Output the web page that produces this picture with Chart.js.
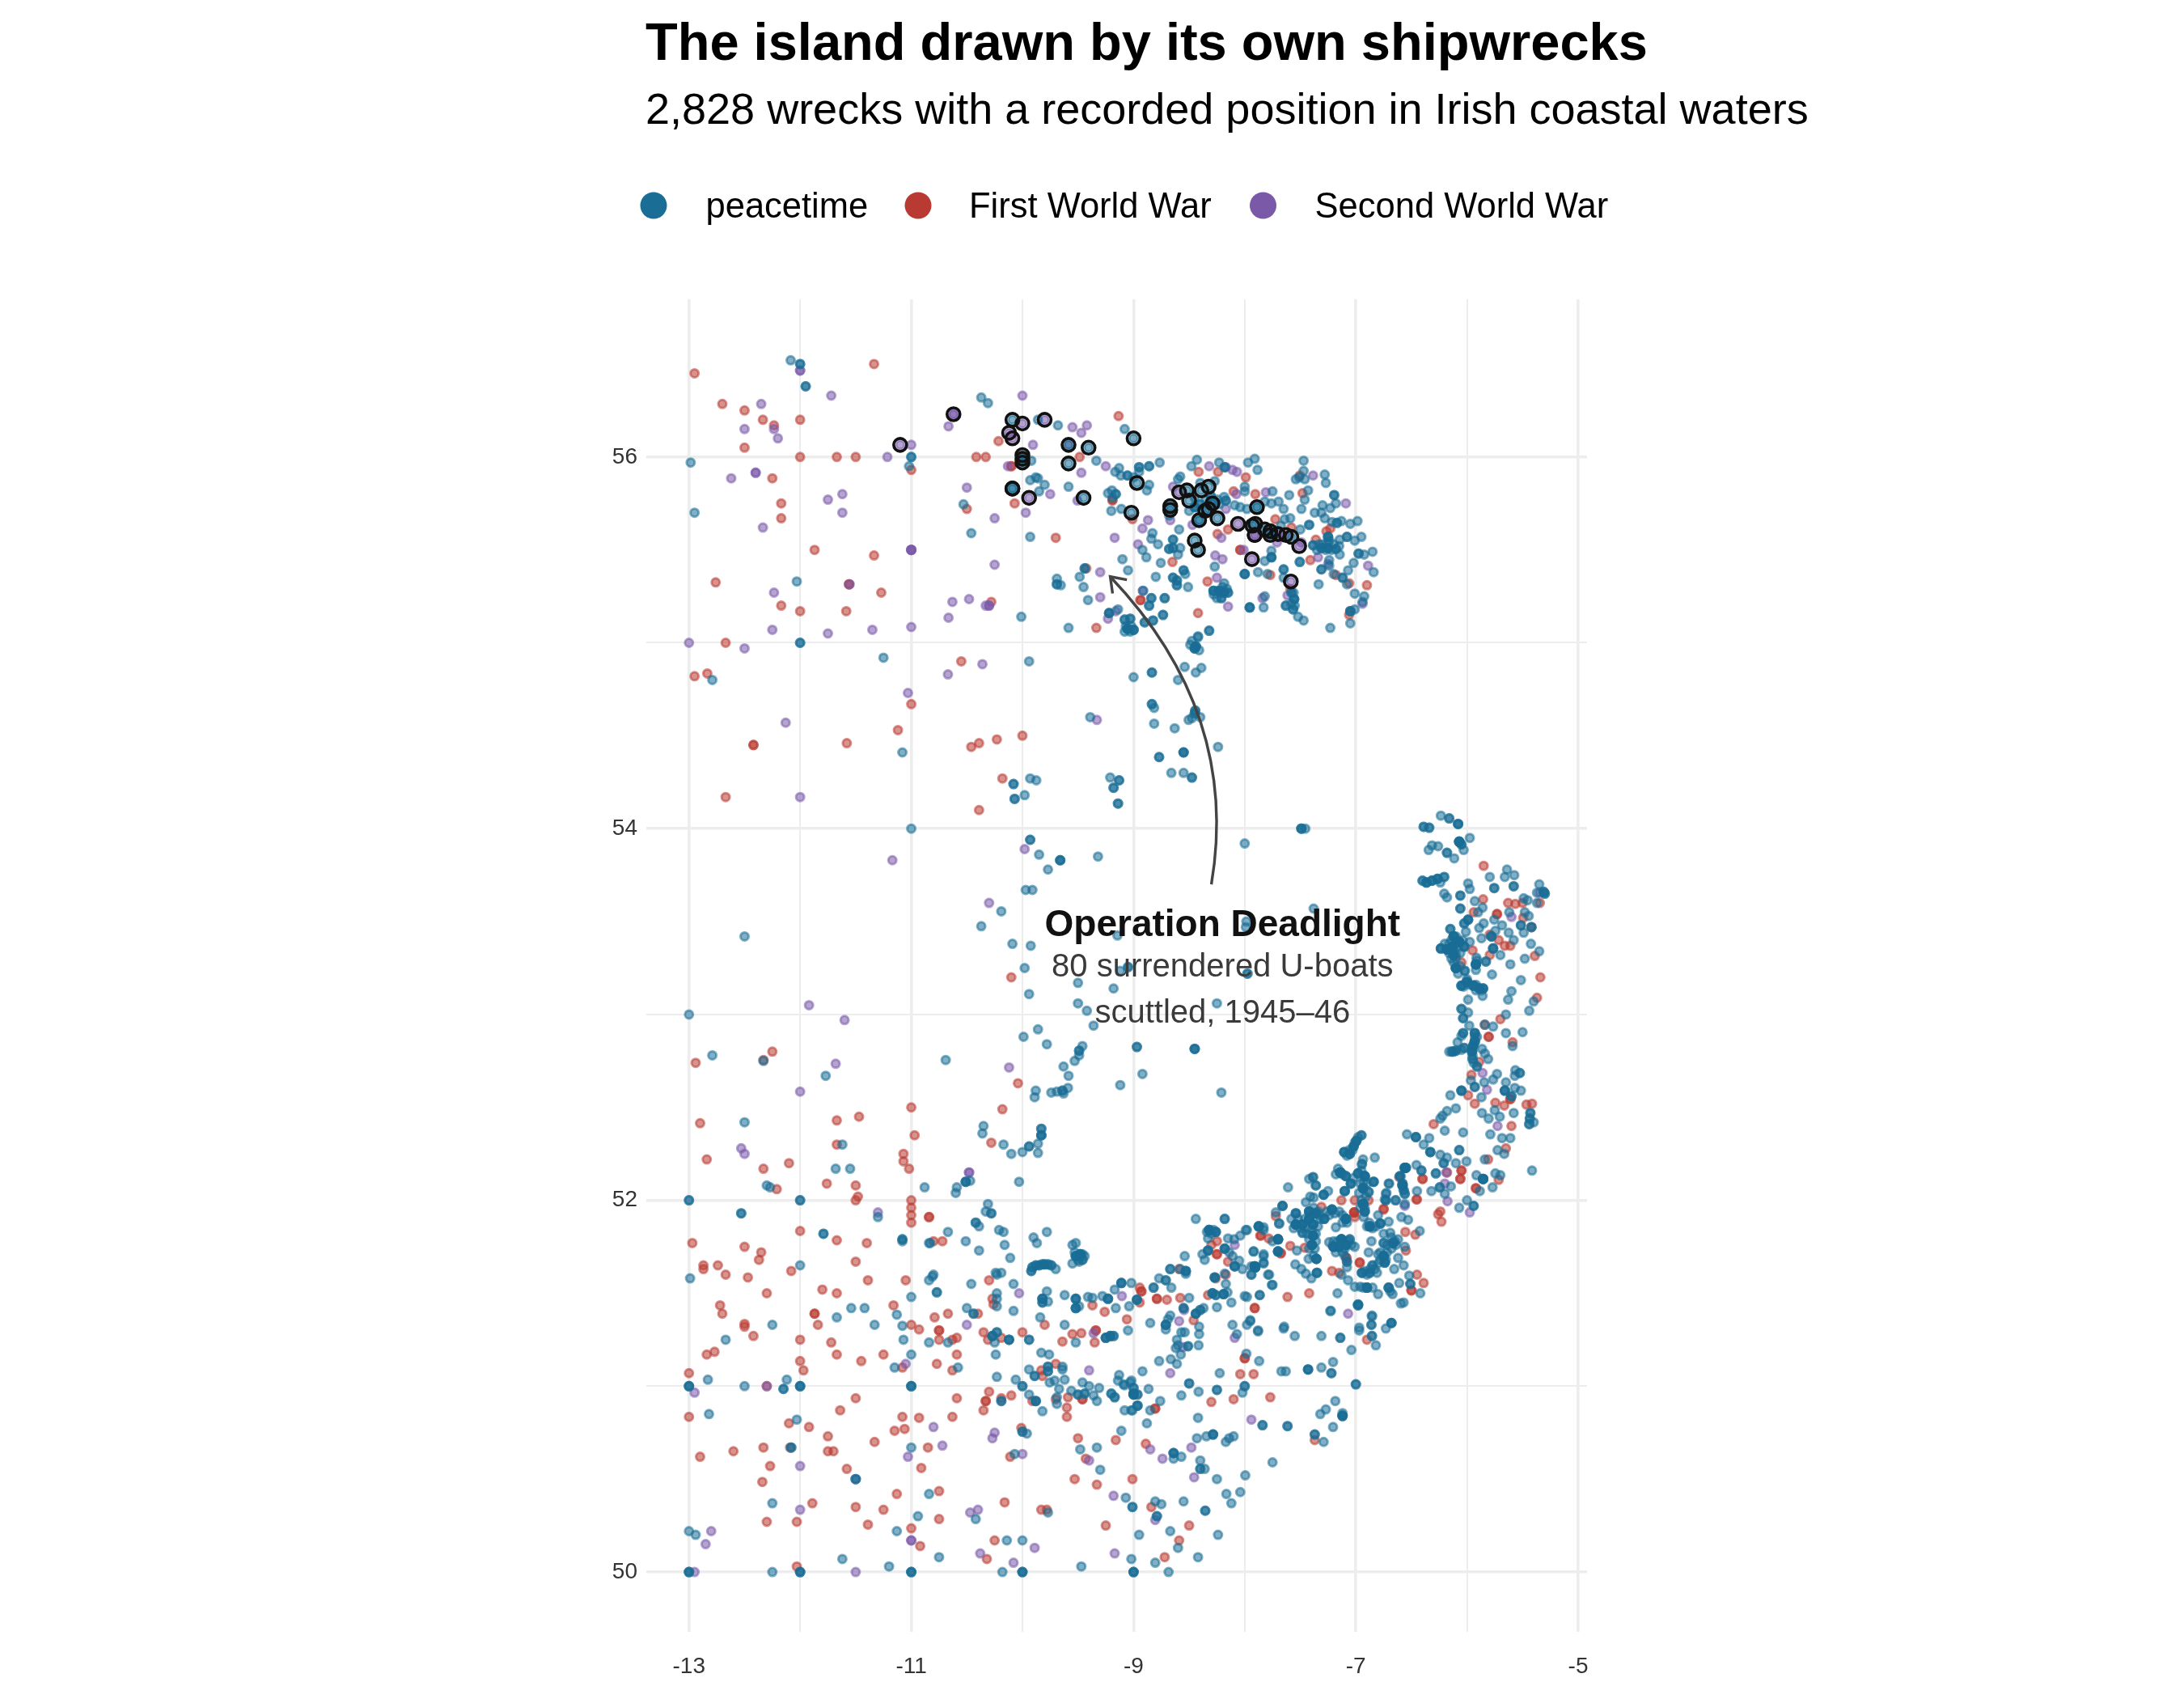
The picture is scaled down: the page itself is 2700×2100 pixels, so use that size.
<!DOCTYPE html>
<html>
<head>
<meta charset="utf-8">
<title>The island drawn by its own shipwrecks</title>
<script src="https://cdn.jsdelivr.net/npm/chart.js@4"></script>
<style>
  html, body { margin: 0; background: #fff; }
  canvas { display: block; }
</style>
</head>
<body>
<canvas id="chart" width="2700" height="2100"></canvas>
<script>
// [lon, lat]; a repeated pair is a spot where wrecks stack up.
const peacetime = [
// south-west
[-13,52],[-13,52],[-12,52],[-12,52],[-12.53,51.93],[-12.53,51.93],[-12.3,52.08],[-12.27,52.07],[-10.51,52.1],[-10.51,52.1],[-10.51,52.1],[-10.47,52.105],[-10.59,52.07],[-10.6,52.04],[-10.03,52.1],[-10.88,52.07],[-11.3,51.91],[-10.31,51.98],[-10.33,51.94],[-10.28,51.93],[-10.28,51.93],[-10.42,51.88],[-10.42,51.88],[-10.39,51.86],[-10.21,51.84],[-10.17,51.83],[-10.67,51.83],[-10.51,51.78],[-10.39,51.73],[-10.16,51.76],[-10.11,51.69],[-9.9,51.8],[-9.87,51.77],[-9.78,51.83],[-9.55,51.76],[-9.52,51.77],[-11.79,51.82],[-11.79,51.82],[-11.08,51.79],[-11.08,51.79],[-11.08,51.78],[-10.84,51.77],[-10.83,51.77],
[-9.92,51.62],[-9.92,51.62],[-9.91,51.64],[-9.91,51.64],[-9.88,51.65],[-9.88,51.65],[-9.85,51.65],[-9.85,51.65],[-9.82,51.655],[-9.82,51.655],[-9.8,51.655],[-9.8,51.655],[-9.77,51.655],[-9.77,51.655],[-9.74,51.65],[-9.74,51.65],[-9.7,51.63],
[-9.48,51.71],[-9.48,51.71],[-9.48,51.71],[-9.48,51.71],[-9.52,51.7],[-9.52,51.7],[-9.52,51.7],[-9.46,51.68],[-9.46,51.68],[-9.55,51.66],[-9.49,51.67],
[-12.99,51.58],[-12,51.65],[-10.8,51.6],[-10.81,51.59],[-10.84,51.57],[-10.24,51.61],[-10.23,51.6],[-10.19,51.61],[-10.46,51.55],[-10.08,51.55],[-10.77,51.505],[-10.77,51.505],[-11,51.48],[-10.23,51.5],[-10.23,51.47],[-10.23,51.43],[-10.08,51.405],[-9.78,51.51],[-9.82,51.47],[-9.82,51.47],[-9.82,51.47],[-9.82,51.45],[-9.82,51.45],[-9.77,51.455],[-9.62,51.49],[-9.52,51.47],[-9.52,51.47],[-9.52,51.47],[-9.52,51.42],[-9.52,51.42],[-9.52,51.42],[-9.49,51.43],[-9.41,51.48],[-9.37,51.475],[-9.28,51.485],[-9.23,51.47],[-9.23,51.47],[-9.23,51.47],[-9.17,51.52],[-9.11,51.555],[-9.11,51.555],[-9.11,51.555],[-9.02,51.555],[-9.16,51.42],[-9.04,51.43],
[-11.54,51.42],[-11.42,51.42],[-11.67,51.37],[-11.33,51.33],[-11.13,51.385],[-11.08,51.325],[-12.25,51.33],[-11.07,51.25],[-12.67,51.25],[-10.84,51.235],[-10.67,51.235],[-10.5,51.42],[-10.44,51.39],[-10.44,51.39],[-9.84,51.37],[-9.62,51.33],[-10.23,51.29],[-10.23,51.29],[-10.27,51.27],[-10.27,51.27],[-10.27,51.27],[-10.25,51.235],[-10.24,51.17],[-10.12,51.25],[-10.12,51.25],[-10.12,51.25],[-9.94,51.25],[-9.94,51.25],[-9.52,51.235],[-9.05,51.3],[-9.25,51.26],[-9.25,51.26],[-9.25,51.26],[-9.21,51.27],[-9.21,51.27],[-9.21,51.27],[-9.18,51.27],[-9.18,51.27],
[-11,51.17],[-11.15,51.1],[-10.58,51.1],[-9.83,51.18],[-9.76,51.17],[-9.77,51.105],[-9.77,51.105],[-9.77,51.08],[-9.77,51.08],[-9.64,51.105],[-9.64,51.09],[-9.94,51.09],[-9.89,51.055],[-9.89,51.055],[-10.23,51.05],[-10.06,51.035],[-10,51],[-10,51],[-9.755,51.02],[-9.71,51.03],[-9.62,51.035],[-9.67,50.985],[-9.56,50.975],[-9.46,51.02],[-9.4,51],[-9.31,50.99],[-9.5,50.955],[-9.5,50.955],[-9.44,50.96],[-9.44,50.96],[-9.36,50.95],[-9.33,50.92],[-9.2,50.96],[-9.2,50.96],[-9.17,50.94],[-9.17,50.94],[-9.13,51.06],[-9.14,51.03],[-9.09,51.01],[-9.02,51.03],[-9,50.96],[-9,50.96],[-9,50.96],
[-13,51],[-13,51],[-13,51],[-12.83,51.035],[-12.5,51],[-12.12,51.035],[-12.15,50.985],[-12.15,50.985],[-12,51],[-12,51],[-12,51],[-11,51],[-11,51],[-11,51],[-9.94,50.955],[-9.88,50.92],[-9.88,50.92],[-9.88,50.92],[-10.19,50.92],[-10.19,50.92],[-9.82,50.865],[-9.69,50.94],[-9.69,50.905],[-9.08,50.87],[-9.02,50.87],[-9.11,50.76],[-12.82,50.85],[-12.03,50.82],[-10,50.755],[-10,50.755],[-9.96,50.745],[-11,50.67],[-12.08,50.67],[-12.08,50.67],[-9.48,50.66],[-9.33,50.67],[-10.07,50.635],[-9.3,50.55],[-11.5,50.5],[-11.5,50.5],[-10.84,50.42],[-12.25,50.37],[-9.07,50.4],[-9.01,50.35],[-9.01,50.35],[-9.77,50.32],[-10.42,50.285],[-10.94,50.3],[-13,50.22],[-12.94,50.2],[-11.13,50.22],[-10.14,50.17],[-10,50.17],[-10.75,50.08],[-11.62,50.07],[-11.2,50.03],[-9.47,50.03],[-9.02,50.07],[-12.25,50],[-10.18,50],
[-13,50],[-13,50],[-13,50],[-12,50],[-12,50],[-12,50],[-11,50],[-11,50],[-11,50],[-10,50],[-10,50],[-10,50],[-9,50],[-9,50],[-9,50],
// west of Clare
[-12.79,52.78],[-12.33,52.75],[-10.69,52.755],[-9.99,52.88],[-9.86,52.92],[-9.78,52.84],[-9.49,52.805],[-9.49,52.805],[-9.46,52.83],[-9.49,52.78],[-9.53,52.75],[-9.63,52.72],[-9.585,52.67],[-9.59,52.605],[-9.64,52.59],[-9.64,52.59],[-9.69,52.585],[-9.74,52.58],[-9.63,52.575],[-9.88,52.59],[-9.89,52.555],[-11.77,52.67],[-12.5,52.42],[-10.35,52.4],[-10.36,52.36],[-11.62,52.3],[-10.17,52.3],[-9.83,52.385],[-9.83,52.385],[-9.83,52.35],[-9.83,52.35],[-9.83,52.35],[-9.94,52.29],[-9.94,52.29],[-9.86,52.305],[-10,52.26],[-10.1,52.25],[-9.86,52.255],[-11.68,52.17],[-11.55,52.17],
// north-west
[-12,55],[-12,55],[-11.25,54.92],[-12.79,54.8],[-9.94,54.9],[-11.08,54.41],[-9.93,54.27],[-9.875,54.26],[-10.08,54.24],[-10.08,54.24],[-10.07,54.16],[-10.07,54.16],[-9.98,54.18],[-11,54],[-9.93,53.94],[-9.93,53.94],[-9.85,53.86],[-9.66,53.83],[-9.66,53.83],[-9.66,53.83],[-9.77,53.78],[-9.97,53.67],[-9.91,53.67],[-10.19,53.555],[-10.37,53.475],[-12.5,53.42],[-10.09,53.38],[-9.925,53.37],[-9.98,53.25],[-9.5,53.17],[-9.94,53.11],[-9.5,53.06],[-13,53],
[-12.085,56.52],[-12,56.5],[-12,56.5],[-11.95,56.38],[-11.95,56.38],[-12.985,55.97],[-12.95,55.7],[-11,56],[-11,56],[-11.02,55.95],[-10.37,56.32],[-10.31,56.29],[-10.53,55.745],[-10.46,55.59],[-9.93,55.875],[-9.88,55.89],[-10.01,55.14],[-9.93,55.57],[-12.03,55.33],
[-9.86,56.2],[-9.68,56.17],[-9.86,55.885],[-9.8,55.85],[-9.85,55.815],[-9.585,55.84],[-9.92,55.98],[-9.08,56.15],[-9.2,55.71],[-9.11,55.72],[-9.335,55.98],[-9.585,55.08],[-9.69,55.315],[-9.69,55.315],[-9.655,55.31],[-9.69,55.345],[-9.485,55.355],[-9.45,55.3],[-9.44,55.4],[-9.44,55.4],[-9.41,55.23],[-9.1,55.45],[-9.05,55.39],[-9.22,55.16],[-9.22,55.16],[-9.22,55.16],[-9.14,55.18],
// under the Deadlight rings
[-10.09,56.2],[-10,56.01],[-10,55.99],[-10,55.97],[-10.09,55.83],[-10.09,55.83],[-9.585,56.065],[-9.405,56.05],[-9.585,55.965],[-9.45,55.78],[-9,56.1],[-8.97,55.86],[-9.02,55.7],[-8.67,55.735],[-8.67,55.715],[-8.52,55.82],[-8.5,55.765],[-8.39,55.82],[-8.325,55.84],[-8.29,55.75],[-8.29,55.75],[-8.325,55.72],[-8.355,55.71],[-8.41,55.66],[-8.41,55.66],[-8.245,55.67],[-8.45,55.55],[-8.42,55.5],[-7.89,55.73],[-7.89,55.73],[-7.93,55.63],[-7.905,55.64],[-7.82,55.61],[-7.77,55.6],[-7.77,55.58],[-7.58,55.57],
// north coast
[-9.13,55.94],[-9.165,55.92],[-9.115,55.9],[-9.055,55.9],[-9.055,55.9],[-8.95,55.945],[-8.95,55.945],[-8.95,55.92],[-9,55.89],[-8.86,55.95],[-8.86,55.95],[-8.765,55.97],[-8.86,55.85],[-8.88,55.82],[-9.23,55.805],[-9.195,55.82],[-9.16,55.8],[-9.16,55.8],[-9.19,55.78],[-8.83,55.59],[-8.84,55.56],[-8.78,55.53],[-8.92,55.5],[-8.885,55.46],[-8.755,55.43],[-8.8,55.355],[-8.68,55.505],[-8.68,55.505],[-8.645,55.555],[-8.645,55.555],[-8.645,55.51],[-8.645,55.51],[-8.58,55.51],[-8.6,55.475],[-8.68,55.685],[-8.59,55.61],[-8.6,55.88],[-8.58,55.895],[-8.48,55.95],[-8.43,55.985],[-8.4,55.86],[-8.27,55.87],[-8.23,55.97],[-8.18,55.945],[-8.18,55.945],[-7.97,55.97],[-7.91,55.99],[-7.885,55.93],[-8,55.84],[-8,55.815],[-7.75,55.815],[-7.6,55.795],[-7.695,55.76],[-7.76,55.75],[-7.82,55.76],[-8.04,55.73],[-8.09,55.74],[-7.98,55.72],[-8.185,55.785],[-8.17,55.765],[-8.17,55.765],[-8.245,55.77],[-7.54,55.88],[-7.51,55.89],[-7.47,55.98],[-7.47,55.925],[-7.46,55.88],[-7.43,55.82],[-7.46,55.77],[-7.28,55.905],[-7.27,55.86],[-7.195,55.795],[-7.195,55.795],[-7.18,55.75],[-7.23,55.725],[-7.3,55.74],[-7.37,55.7],[-7.31,55.7],[-7.49,55.72],[-7.65,55.72],[-7.59,55.67],[-7.64,55.665],[-7.675,55.63],[-7.5,55.61],[-7.42,55.635],[-7.42,55.635],[-7.28,55.67],[-7.215,55.65],[-7.17,55.645],[-7.17,55.645],[-7.13,55.655],[-6.985,55.655],[-7.05,55.64],
[-7.25,55.57],[-7.25,55.57],[-7.25,55.57],[-7.24,55.55],[-7.385,55.525],[-7.385,55.525],[-7.31,55.51],[-7.31,55.51],[-7.31,55.51],[-7.25,55.51],[-7.25,55.51],[-7.25,55.51],[-7.18,55.505],[-7.18,55.505],[-7.145,55.475],[-7.08,55.57],[-7.08,55.57],[-7.145,55.555],[-7.01,55.55],[-6.95,55.57],[-7.24,55.445],[-7.24,55.415],[-7.31,55.395],[-7.31,55.395],[-7.505,55.435],[-7.505,55.435],[-7.76,55.495],[-7.76,55.46],[-7.76,55.46],[-7.76,55.46],[-7.82,55.44],[-7.65,55.395],[-7.65,55.395],[-7.65,55.35],[-8,55.37],[-8,55.37],[-8,55.37],[-7.88,55.38],[-7.795,55.37],[-7.335,55.315],[-7.2,55.37],[-7.12,55.35],[-7.12,55.35],[-7.08,55.315],[-7.02,55.43],[-7.07,55.39],[-6.975,55.48],[-6.975,55.48],[-6.925,55.475],[-6.85,55.49],[-7.01,55.265],[-6.925,55.25],[-6.94,55.22],[-6.84,55.38],[-7.05,55.17],[-7.05,55.17],[-7.05,55.17],[-7.01,55.18],[-7.05,55.105],[-7.23,55.08],
[-7.58,55.27],[-7.58,55.27],[-7.555,55.235],[-7.555,55.235],[-7.555,55.235],[-7.63,55.2],[-7.63,55.2],[-7.565,55.18],[-7.565,55.18],[-7.52,55.14],[-7.47,55.12],[-7.83,55.19],[-7.955,55.19],[-7.955,55.19],[-7.955,55.19],[-7.82,55.25],[-8.28,55.28],[-8.28,55.28],[-8.28,55.28],[-8.23,55.28],[-8.23,55.28],[-8.23,55.28],[-8.185,55.27],[-8.185,55.27],[-8.185,55.27],[-8.15,55.27],[-8.15,55.27],[-8.21,55.24],[-8.21,55.24],[-8.185,55.32],[-8.27,55.41],[-8.645,55.35],[-8.645,55.35],[-8.61,55.335],[-8.61,55.335],[-8.61,55.31],[-8.61,55.31],[-8.55,55.39],[-8.55,55.39],[-8.51,55.3],[-8.535,55.37],[-8.84,55.24],[-8.84,55.24],[-8.86,55.2],[-8.86,55.2],[-8.72,55.24],[-8.72,55.24],[-8.735,55.15],[-8.735,55.15],[-8.825,55.12],[-8.825,55.12],[-8.9,55.11],[-8.9,55.11],[-9.08,55.125],[-9.08,55.125],[-9.03,55.13],[-9.03,55.13],[-9.055,55.075],[-9.055,55.075],[-9.055,55.075],[-9.055,55.075],[-9,55.07],[-9,55.07],[-9,55.07],[-8.32,55.065],[-8.32,55.065],[-8.42,55.03],[-8.475,55.01],[-8.44,54.98],[-8.44,54.98],[-8.44,54.98],
[-8.45,55.73],[-8.45,55.73],[-8.45,55.73],[-8.4,55.745],[-8.4,55.745],[-8.35,55.77],[-8.305,55.79],[-8.305,55.79],[-8.23,55.745],[-8.45,55.78],[-8.5,55.71],[-8.915,55.28],
// centre
[-9,54.815],[-8.835,54.84],[-8.835,54.84],[-8.6,54.8],[-8.54,54.87],[-8.44,54.84],[-8.39,54.865],[-8.49,54.99],[-8.45,54.97],[-8.45,54.97],[-8.45,54.97],[-8.41,54.96],[-8.42,55.035],[-8.835,54.67],[-8.835,54.67],[-8.815,54.65],[-9.39,54.6],[-8.815,54.565],[-8.63,54.54],[-8.505,54.585],[-8.475,54.595],[-8.45,54.62],[-8.45,54.62],[-8.445,54.635],[-8.445,54.635],[-8.4,54.6],[-8.24,54.44],[-8.55,54.41],[-8.55,54.41],[-8.55,54.41],[-8.77,54.385],[-8.77,54.385],[-8.66,54.3],[-8.55,54.3],[-8.475,54.275],[-8.475,54.275],[-9.21,54.275],[-9.13,54.26],[-9.13,54.26],[-9.18,54.22],[-9.18,54.22],[-9.14,54.135],[-9.14,54.135],[-7.49,54],[-7.49,54],[-7.49,54],[-7.455,54],
[-9.32,53.85],[-8,53.92],[-7.38,53.57],[-9.145,53.425],[-7.985,53.5],[-7.99,53.47],[-9.12,53.235],[-9.05,53.255],[-9.05,53.255],[-7.975,53.22],[-7.975,53.22],[-9.18,53.14],[-9.42,53.02],[-8.25,53.06],[-9.36,52.94],[-8.97,52.825],[-8.97,52.825],[-8.45,52.815],[-8.45,52.815],[-8.45,52.815],[-8.92,52.68],[-9.12,52.62],[-8.21,52.58],
// east coast
[-6.235,54.07],[-6.16,54.055],[-6.16,54.055],[-6.08,54.025],[-6.08,54.025],[-6.08,54.025],[-6.39,54.01],[-6.39,54.01],[-6.34,54.005],[-6.34,54.005],[-6.07,53.93],[-6.07,53.93],[-6.07,53.93],[-6.07,53.93],[-6.07,53.93],[-6.05,53.915],[-6.05,53.915],[-5.975,53.95],[-6.03,53.885],[-6.345,53.885],[-6.315,53.91],[-6.26,53.905],[-6.18,53.87],[-6.18,53.87],[-6.115,53.84],
[-6.4,53.72],[-6.4,53.72],[-6.365,53.71],[-6.365,53.71],[-6.365,53.71],[-6.315,53.72],[-6.315,53.72],[-6.315,53.72],[-6.265,53.73],[-6.265,53.73],[-6.265,53.73],[-6.205,53.74],[-6.205,53.74],[-6.24,53.71],[-5.99,53.705],[-5.975,53.675],[-6.205,53.65],[-6.18,53.63],[-6.06,53.64],[-6.06,53.64],[-5.93,53.61],[-6.06,53.57],[-6.06,53.57],[-5.86,53.575],[-5.9,53.55],[-5.795,53.74],[-5.755,53.68],[-5.755,53.68],[-5.64,53.78],[-5.66,53.74],[-5.575,53.75],[-5.58,53.69],[-5.58,53.69],[-5.35,53.7],[-5.37,53.655],[-5.31,53.66],[-5.31,53.66],[-5.3,53.65],[-5.3,53.65],[-5.37,53.6],[-5.49,53.625],[-5.455,53.615],
[-5.62,53.55],[-5.48,53.55],[-5.445,53.53],[-5.755,53.51],[-5.685,53.48],[-5.85,53.49],[-5.89,53.465],[-5.515,53.48],[-5.515,53.48],[-5.42,53.47],[-5.42,53.47],[-5.49,53.44],[-5.625,53.44],[-5.58,53.4],[-5.745,53.45],[-5.78,53.42],[-5.78,53.42],[-5.78,53.42],[-5.87,53.41],[-5.425,53.38],[-5.35,53.34],[-5.765,53.355],[-5.765,53.355],[-5.765,53.355],[-5.7,53.32],[-5.83,53.285],[-5.83,53.285],[-5.48,53.3],[-5.61,53.27],[-5.775,53.215],[-5.515,53.185],[-5.6,53.125],[-5.63,53.08],[-5.4,53.07],[-5.44,53.02],[-5.65,53],[-5.765,52.935],[-5.65,52.9],[-5.5,52.905],[-5.84,52.945],[-5.59,52.83],
[-6.15,53.46],[-6.15,53.46],[-6.12,53.42],[-6.12,53.42],[-6.12,53.42],[-6.12,53.42],[-6.07,53.39],[-6.07,53.39],[-6.07,53.39],[-6.07,53.39],[-6.07,53.39],[-6.13,53.365],[-6.13,53.365],[-6.13,53.365],[-6.13,53.365],[-6.13,53.365],[-6.18,53.35],[-6.18,53.35],[-6.18,53.35],[-6.18,53.35],[-6.18,53.35],[-6.235,53.355],[-6.235,53.355],[-6.235,53.355],[-6.025,53.365],[-6.025,53.365],[-6.025,53.365],[-5.975,53.39],[-6.01,53.445],[-6.12,53.32],[-6.12,53.32],[-6.12,53.32],[-6.12,53.32],[-6.1,53.25],[-6.1,53.25],[-6.1,53.25],[-6.1,53.25],[-6.1,53.25],[-6.02,53.235],[-6.02,53.235],[-5.92,53.27],[-5.92,53.27],[-5.92,53.27],[-5.92,53.27],[-5.92,53.27],[-5.915,53.305],[-5.99,53.51],[-5.99,53.51],[-5.99,53.51],[-6.025,53.49],[-6.025,53.49],
[-6.05,53.155],[-6.05,53.155],[-6.05,53.155],[-6,53.175],[-6,53.175],[-6,53.175],[-6,53.175],[-5.94,53.155],[-5.94,53.155],[-5.94,53.155],[-5.89,53.14],[-5.89,53.14],[-5.89,53.14],[-5.855,53.14],[-5.855,53.14],[-5.855,53.14],[-5.99,53.08],[-5.86,53.1],[-6.05,53.03],[-6.05,53.03],[-5.99,53.01],[-6.035,52.98],[-6.035,52.98],[-5.98,52.94],[-6.035,52.9],[-6.035,52.9],[-6.05,52.885],[-5.93,52.9],[-5.93,52.9],[-5.93,52.9],[-5.93,52.855],[-5.93,52.855],[-5.93,52.855],[-5.945,52.83],[-5.945,52.83],[-5.945,52.83],[-5.955,52.8],[-5.955,52.8],[-5.955,52.8],[-5.95,52.76],[-5.95,52.76],[-6.135,52.8],[-6.135,52.8],[-6.1,52.805],[-6.1,52.805],[-6.025,52.82],[-6.025,52.82],[-6.085,52.85],[-5.865,52.815],[-5.84,52.79],[-5.81,52.76],
[-5.91,52.72],[-5.91,52.72],[-5.965,52.645],[-5.93,52.61],[-5.93,52.61],[-5.845,52.635],[-5.765,52.65],[-5.73,52.68],[-5.565,52.7],[-5.525,52.685],[-5.525,52.685],[-5.57,52.67],[-6.05,52.59],[-6.05,52.59],[-6.05,52.59],[-6.15,52.565],[-5.87,52.555],[-5.65,52.635],[-5.66,52.59],[-5.66,52.59],[-5.66,52.59],[-5.57,52.605],[-5.515,52.59],[-5.6,52.56],[-5.6,52.56],[-6.1,52.495],[-6.18,52.48],[-6.22,52.455],[-6.24,52.44],[-6.2,52.375],[-6.035,52.365],[-5.865,52.47],[-5.805,52.44],[-5.75,52.485],[-5.705,52.45],[-5.58,52.47],[-5.43,52.47],[-5.43,52.47],[-5.435,52.44],[-5.435,52.44],[-5.44,52.41],[-5.44,52.41],[-5.4,52.42],[-5.79,52.355],[-5.685,52.335],[-5.61,52.335],[-5.725,52.27],[-5.665,52.25],
[-6.54,52.355],[-6.46,52.34],[-6.46,52.34],[-6.46,52.34],[-6.39,52.3],[-6.34,52.335],[-6.33,52.26],[-6.33,52.26],[-6.33,52.26],[-6.24,52.245],[-6.18,52.23],[-6.21,52.2],[-6.21,52.2],[-6.1,52.2],[-6.005,52.21],[-6.07,52.27],[-6.07,52.27],[-6.455,52.19],[-6.41,52.16],[-6.41,52.16],[-6.28,52.145],[-6.28,52.145],[-6.55,52.175],[-6.55,52.175],[-6.55,52.175],[-6.595,52.13],[-6.58,52.08],[-6.58,52.08],[-6.58,52.08],[-6.58,52.08],[-6.57,52.055],[-6.57,52.055],[-6.7,52.09],[-6.725,52.04],[-6.64,52],[-6.45,52.05],[-6.32,52.05],[-6.245,52.07],[-6.245,52.07],[-6.2,52.035],[-6.145,52.075],[-5.855,52.115],[-5.855,52.115],[-5.855,52.115],[-5.855,52.115],[-5.855,52.115],[-5.915,52.135],[-5.84,52.22],[-5.745,52.145],[-5.7,52.135],[-5.77,52.07],[-5.885,52.05],[-5.415,52.16],[-6,52],[-5.94,51.97],[-5.94,51.97],[-6.07,51.96],
// Cork and Waterford
[-7.61,52.07],[-7.42,52.115],[-7.385,52.125],[-7.385,52.125],[-7.36,52.08],[-7.36,52.08],[-7.41,52.02],[-7.29,52.03],[-7.29,52.03],[-7.29,52.03],[-7.25,52.05],[-7.45,51.99],[-7.38,52.015],[-7.66,51.97],[-7.66,51.97],[-7.66,51.97],[-7.72,51.935],[-7.69,51.875],[-7.69,51.875],[-7.875,51.86],[-7.875,51.86],[-7.875,51.86],[-7.83,51.84],[-7.98,51.84],[-7.7,51.79],[-7.7,51.79],[-7.7,51.79],[-7.7,51.79],[-7.7,51.79],[-7.75,51.78],[-7.7,51.725],[-7.7,51.725],[-7.7,51.725],[-7.7,51.725],[-7.92,51.725],[-7.92,51.725],[-7.83,51.7],[-7.83,51.66],[-7.905,51.64],[-7.905,51.64],[-7.905,51.64],[-7.905,51.64],[-7.905,51.64],[-7.94,51.645],[-7.94,51.6],[-7.78,51.6],[-7.75,51.545],[-7.98,51.48],[-7.865,51.49],
[-7.53,51.73],[-7.425,51.685],[-7.545,51.655],[-7.49,51.63],[-7.45,51.605],[-7.4,51.58],[-7.355,51.685],[-7.355,51.685],[-7.355,51.685],[-7.355,51.685],[-7.35,51.61],[-7.35,51.61],[-7.35,51.61],
[-7.54,51.93],[-7.54,51.93],[-7.54,51.93],[-7.54,51.87],[-7.54,51.87],[-7.54,51.87],[-7.54,51.87],[-7.54,51.87],[-7.48,51.87],[-7.48,51.87],[-7.48,51.87],[-7.48,51.87],[-7.48,51.825],[-7.48,51.825],[-7.42,51.94],[-7.42,51.94],[-7.42,51.94],[-7.42,51.94],[-7.42,51.9],[-7.42,51.9],[-7.42,51.9],[-7.42,51.9],[-7.36,51.93],[-7.36,51.93],[-7.36,51.93],[-7.36,51.93],[-7.385,51.87],[-7.385,51.87],[-7.385,51.87],[-7.385,51.87],[-7.385,51.81],[-7.385,51.81],[-7.385,51.81],[-7.385,51.81],[-7.385,51.81],[-7.395,51.76],[-7.395,51.76],[-7.395,51.76],[-7.395,51.76],[-7.395,51.76],[-7.285,51.9],[-7.285,51.9],[-7.285,51.9],[-7.215,51.95],[-7.215,51.95],[-7.215,51.95],[-7.215,51.95],[-7.15,51.94],[-7.09,51.9],[-7.09,51.9],[-7.09,51.9],[-7.09,51.9],
[-7.18,51.855],[-7.24,51.775],[-7.13,51.79],[-7.13,51.79],[-7.13,51.79],[-7.13,51.79],[-7.13,51.79],[-7.2,51.75],[-7.2,51.75],[-7.2,51.75],[-7.2,51.75],[-7.15,51.75],[-7.15,51.75],[-7.15,51.75],[-7.15,51.75],[-7.15,51.75],[-7.09,51.76],[-7.09,51.76],[-7.09,51.76],[-7.09,51.76],[-7.055,51.79],[-7.055,51.79],[-7.01,51.75],[-7.08,51.67],[-7.08,51.67],[-7.08,51.64],[-7.13,51.6],
[-7.14,52.15],[-7.14,52.15],[-7.14,52.15],[-7.14,52.15],[-7.14,52.15],[-7.09,52.13],[-7.09,52.13],[-7.09,52.13],[-6.945,52.195],[-6.945,52.195],[-6.98,52.145],[-6.98,52.145],[-6.98,52.145],[-6.92,52.13],[-6.92,52.13],[-6.92,52.13],[-6.92,52.13],[-6.92,52.13],[-6.84,52.1],[-6.84,52.1],[-6.84,52.1],[-7.045,52.09],[-7.045,52.09],[-7.045,52.09],[-6.935,52.065],[-6.935,52.065],[-6.935,52.065],[-6.935,52.065],[-6.935,52.065],[-6.885,52.045],[-6.885,52.045],[-6.935,51.98],[-6.935,51.98],[-6.935,51.98],[-6.935,51.98],[-6.935,51.98],[-6.92,51.94],[-6.92,51.94],[-6.92,51.94],[-7.1,52.05],[-7.1,52.05],[-7.1,52.05],[-7.18,52.14],
[-7.105,52.26],[-7.105,52.26],[-7.105,52.26],[-7.055,52.25],[-7.055,52.25],[-7.055,52.25],[-7.02,52.29],[-7.02,52.29],[-7.02,52.29],[-6.995,52.32],[-6.995,52.32],[-6.995,52.32],[-6.95,52.35],[-6.95,52.35],[-6.935,52.22],[-6.83,52.23],
[-6.875,51.86],[-6.875,51.86],[-6.875,51.86],[-6.875,51.86],[-6.78,51.875],[-6.78,51.875],[-6.78,51.875],[-6.705,51.885],[-6.8,51.92],[-6.73,52.035],[-6.705,52.09],[-6.74,52.005],[-6.58,52.09],[-6.58,52.09],[-6.56,52.175],[-6.56,52.175],[-6.56,52.175],[-6.56,52.175],[-6.605,52.13],[-6.605,52.13],[-6.56,52.035],[-6.56,52.035],[-6.645,52],[-6.73,52],[-6.73,52],[-6.56,51.98],[-6.59,51.91],[-6.53,51.895],[-6.425,51.835],[-6.75,51.82],[-6.69,51.825],[-6.665,51.77],[-6.665,51.77],[-6.665,51.77],[-6.665,51.77],[-6.665,51.77],[-6.75,51.77],[-6.75,51.77],[-6.62,51.79],[-6.56,51.75],
[-6.86,51.78],[-6.75,51.7],[-6.75,51.7],[-6.75,51.7],[-6.75,51.7],[-6.75,51.7],[-6.74,51.665],[-6.74,51.665],[-6.74,51.665],[-6.85,51.65],[-6.85,51.65],[-6.945,51.61],[-6.945,51.61],[-6.945,51.61],[-6.8,51.71],[-6.885,51.72],[-6.62,51.69],[-6.57,51.65],[-6.655,51.63],[-6.875,51.61],[-6.875,51.61],[-6.81,51.61],[-7.07,51.57],[-7.01,51.535],[-6.96,51.535],[-6.9,51.53],[-6.9,51.53],[-6.9,51.53],[-6.9,51.53],[-6.8,51.495],[-6.705,51.53],[-6.705,51.53],[-6.705,51.53],[-6.61,51.555],[-6.67,51.495],[-6.52,51.595],[-6.51,51.55],[-6.51,51.55],[-6.42,51.5],[-7.165,51.5],[-6.98,51.44],[-6.98,51.44],[-6.57,51.45],[-6.595,51.445],[-7.225,51.405],[-6.855,51.38],[-7.95,51.355],[-7.88,51.295],[-7.645,51.32],[-6.68,51.34],[-6.68,51.34],[-6.86,51.33],[-6.97,51.315],
// Kerry to Cork offshore
[-8.97,51.465],[-8.97,51.465],[-8.97,51.465],[-8.82,51.53],[-8.82,51.53],[-8.77,51.58],[-8.71,51.57],[-8.71,51.57],[-8.66,51.53],[-8.54,51.7],[-8.38,51.71],[-8.36,51.68],[-8.67,51.63],[-8.67,51.63],[-8.53,51.62],[-8.53,51.62],[-8.53,51.62],[-8.53,51.605],[-8.58,51.63],[-8.85,51.34],[-8.71,51.33],[-8.71,51.33],[-8.71,51.33],[-8.71,51.305],[-8.67,51.38],[-8.69,51.36],[-8.55,51.42],[-8.55,51.42],[-8.5,51.475],[-8.44,51.39],[-8.44,51.39],[-8.44,51.39],[-8.4,51.41],[-8.4,51.41],[-8.37,51.42],[-8.25,51.425],[-8.29,51.5],[-8.29,51.5],[-8.29,51.5],[-8.26,51.49],[-8.26,51.49],[-8.19,51.495],[-8.19,51.495],[-8.19,51.495],[-8.155,51.505],[-8.17,51.55],[-8.27,51.585],[-8.27,51.585],[-8.27,51.585],[-8.18,51.605],
[-8.33,51.73],[-8.33,51.73],[-8.33,51.73],[-8.18,51.74],[-8.18,51.74],[-8.18,51.74],[-8.32,51.84],[-8.32,51.84],[-8.32,51.84],[-8.32,51.84],[-8.26,51.83],[-8.26,51.83],[-8.26,51.83],[-8.33,51.795],[-8.44,51.9],[-8.18,51.9],[-8.18,51.9],[-8.15,51.795],[-8.095,51.79],[-8.04,51.81],[-7.99,51.84],[-8.14,51.72],[-8.11,51.7],[-8.05,51.675],[-8.09,51.645],[-8.09,51.645],[-8.09,51.645],[-8.02,51.63],[-7.91,51.645],[-7.91,51.645],[-7.91,51.645],[-7.91,51.645],[-7.91,51.645],[-7.94,51.6],[-7.83,51.71],[-7.83,51.665],[-7.79,51.6],[-7.755,51.545],[-7.87,51.86],[-7.83,51.855],[-8,51.485],[-7.865,51.49],[-8.12,51.45],
[-8.41,51.32],[-8.41,51.28],[-8.415,51.22],[-8.51,51.215],[-8.51,51.215],[-8.54,51.29],[-8.61,51.25],[-8.62,51.205],[-8.575,51.17],[-8.665,51.145],[-8.77,51.135],[-8.57,51.29],[-8.6,51.22],[-8.92,51.08],[-8.61,51.12],[-8.225,51.07],[-8.5,51.015],[-8.5,51.015],[-8.25,50.98],[-8.25,50.98],[-8.415,50.97],[-8.57,50.95],[-8,51],[-8,51],[-8.02,50.965],[-7.985,51.175],[-8.11,51.33],[-7.98,51.33],[-7.95,51.35],[-8.07,51.28],[-7.88,51.3],[-7.87,51.135],[-7.65,51.31],[-7.55,51.27],[-7.67,51.08],[-7.63,51.08],[-7.43,51.09],[-7.43,51.09],[-7.43,51.09],[-7.31,51.1],[-7.205,51.13],[-7.22,51.07],[-7.22,51.07],[-7.31,51.27],[-7.14,51.26],[-7.14,51.26],[-7.23,51.405],[-6.98,51.435],[-6.98,51.435],[-6.855,51.375],[-6.86,51.33],[-6.68,51.34],[-6.73,51.31],[-6.97,51.3],[-6.855,51.27],[-6.855,51.27],[-6.82,51.22],[-7.04,51.195],[-7,51.01],[-7,51.01],
[-9,50.99],[-9,50.99],[-9.03,51.02],[-9,50.955],[-9,50.955],[-9,50.955],[-8.965,50.955],[-8.965,50.955],[-8.965,50.895],[-8.965,50.895],[-8.965,50.895],[-9.01,50.87],[-9.08,51.005],[-8.865,50.985],[-8.85,50.87],[-8.76,50.92],[-8.88,50.8],[-8.42,50.83],[-8.43,50.72],[-8.345,50.73],[-8.285,50.74],[-8.285,50.74],[-8.285,50.74],[-8.17,50.7],[-8.14,50.72],[-8.1,50.73],[-8.64,50.64],[-8.64,50.64],[-8.64,50.64],[-8.64,50.61],[-8.57,50.62],[-8.4,50.6],[-8.4,50.555],[-8.4,50.555],[-8.36,50.555],[-7.75,50.59],[-8.25,50.5],[-7.995,50.52],[-8.04,50.43],[-8.165,50.42],[-8.12,50.37],[-8.805,50.38],[-8.75,50.365],[-8.55,50.38],[-8.79,50.3],[-8.79,50.3],[-8.355,50.33],[-8.355,50.33],[-8.95,50.2],[-8.67,50.22],[-8.24,50.2],[-8.6,50.13],[-8.42,50.08],[-8.805,50.05],[-8.685,50],
[-7.37,50.74],[-7.37,50.74],[-7.29,50.7],[-7.32,50.85],[-7.27,50.875],[-7.185,50.92],[-7.205,50.78],[-7.12,50.84],[-7.12,50.84],[-7.12,50.84],[-7.12,50.84],[-7.12,50.855],[-7.84,50.79],[-7.84,50.79],[-7.615,50.785],[-7.615,50.785]
];

// the solid masses, where single wrecks cannot be told apart
const peacetimeMasses = [
[-7.58,51.9],[-7.56,51.85],[-7.52,51.9],[-7.5,51.85],[-7.46,51.9],[-7.44,51.85],[-7.44,51.82],[-7.4,51.92],[-7.38,51.96],[-7.34,51.94],[-7.32,51.9],[-7.34,51.86],[-7.4,51.84],[-7.36,51.82],[-7.42,51.79],[-7.36,51.78],[-7.42,51.74],[-7.37,51.74],[-7.38,51.7],[-7.33,51.92],[-7.26,51.94],[-7.24,51.92],[-7.19,51.93],[-7.12,51.92],[-7.08,51.88],[-7.12,51.88],
[-7.2,51.78],[-7.18,51.72],[-7.16,51.78],[-7.12,51.72],[-7.1,51.74],[-7.07,51.78],[-7.04,51.76],[-7.1,51.7],
[-6.95,52.16],[-6.93,52.1],[-6.96,52.09],[-6.9,52.09],[-6.97,52.04],[-6.91,52.02],[-6.95,52],[-6.92,51.96],[-6.96,51.96],[-6.93,51.91],[-6.88,51.88],[-6.9,51.86],[-6.85,51.85],[-6.82,51.86],[-7.02,52.12],
[-7.12,52.14],[-7.16,52.17],[-7.06,52.27],[-7.08,52.24],[-7.03,52.27],[-7.01,52.31],[-6.98,52.34],
[-6.72,51.72],[-6.78,51.72],[-6.73,51.68],[-6.78,51.68],[-6.72,51.76],[-6.68,51.8],[-6.64,51.76],[-6.68,51.74],[-6.65,51.78],[-6.8,51.66],[-6.83,51.63],[-6.9,51.6],[-6.92,51.62],[-6.87,51.63],[-6.85,51.53],[-6.93,51.53],[-6.69,51.51],
[-6.2,53.38],[-6.16,53.38],[-6.14,53.4],[-6.1,53.42],[-6.08,53.36],[-6.04,53.4],[-6.16,53.33],[-6.12,53.36],[-6.1,53.32],[-6.1,53.3],[-6.06,53.33],[-6.14,53.3],[-6.12,53.28],[-6.08,53.22],[-6.06,53.26],[-6,53.19],[-6.03,53.15],[-5.97,53.16],[-5.92,53.13],[-5.92,53.16],[-5.87,53.13],[-5.92,53.24],[-5.91,53.29],
[-5.93,52.88],[-5.94,52.84],[-5.95,52.81],[-5.95,52.78],[-5.94,52.74],[-5.91,52.88],[-6.12,52.8],[-6.05,52.81],[-6.16,52.8],
[-9.5,51.7],[-9.46,51.71],[-9.5,51.68],[-9.44,51.7],[-9.53,51.72],
[-9.07,55.09],[-9.03,55.06],[-9.08,55.06],[-9.02,55.09],[-8.28,55.26],[-8.2,55.3],[-8.16,55.29],[-8.25,55.24],[-8.22,55.27],[-7.56,55.27],[-7.58,55.21],[-7.55,55.2],[-7.3,55.53],[-7.27,55.5],[-7.2,55.53],[-7.33,55.53],[-7.35,55.5],[-7.15,55.52],[-7.25,55.54],[-7.22,55.5],
[-8.3,51.82],[-8.28,51.84],[-8.34,51.83]
];

const firstWar = [
[-12.21,52.06],[-11.76,52.09],[-11.5,52.08],[-11.48,52.02],[-11.5,52],[-11,52],[-11,51.96],[-11,51.92],[-11,51.88],[-10.84,51.91],[-10.84,51.91],[-12.97,51.77],[-12.5,51.75],[-12.35,51.72],[-12.37,51.68],[-12.87,51.65],[-12.87,51.63],[-12.74,51.65],[-12.67,51.6],[-12.47,51.585],[-12.08,51.62],[-12.3,51.5],[-12,51.835],[-11.67,51.785],[-11.4,51.77],[-11.5,51.67],[-11.39,51.57],[-11.05,51.57],[-11.8,51.52],[-11.67,51.5],[-11.16,51.435],[-12.72,51.435],[-12.7,51.39],[-12.5,51.335],[-12.5,51.32],[-12.42,51.27],[-11.87,51.39],[-11.87,51.39],[-11.84,51.33],[-12,51.25],[-11.72,51.235],[-11.67,51.17],[-11.45,51.135],[-11.25,51.17],[-11,51.33],[-10.93,51.305],[-10.79,51.37],[-10.67,51.39],[-10.75,51.3],[-10.75,51.3],[-10.75,51.25],[-10.63,51.25],[-10.59,51.26],[-10.59,51.17],[-10.77,51.12],[-10.63,51.085],[-11.08,51.1],[-12.84,51.17],[-12.77,51.185],[-12,51.135],[-11.97,51.085],[-13,51.07],[-10.8,51.78],[-10.72,51.78],
[-10.3,51.57],[-10.27,51.47],[-10.26,51.44],[-10.4,51.39],[-10.35,51.29],[-10.31,51.25],[-10.19,51.26],[-10,51.29],[-9.8,51.33],[-9.64,51.24],[-9.55,51.28],[-9.47,51.285],[-9.34,51.3],[-9.34,51.3],[-9.35,51.235],[-9.26,51.4],[-9.06,51.36],[-9.37,51.435],[-9.7,51.12],[-9.83,51.085],[-9.82,51.055],[-10.3,50.97],[-10.59,50.935],[-10.33,50.92],[-10.33,50.92],[-10.35,50.87],[-10.19,50.935],[-10.1,50.95],[-9.91,50.92],[-9.59,50.94],[-9.46,50.93],[-9.46,50.93],[-9.6,50.885],[-9.6,50.835],[-9.7,50.93],
[-11.5,50.935],[-11.64,50.87],[-13,50.835],[-12.1,50.8],[-11.92,50.78],[-11.75,50.73],[-11.08,50.835],[-10.93,50.83],[-10.63,50.835],[-11.15,50.76],[-11.06,50.77],[-10.01,50.775],[-11.33,50.7],[-11.75,50.65],[-11.7,50.65],[-12.9,50.62],[-12.6,50.65],[-12.33,50.67],[-12.09,50.67],[-10.85,50.67],[-12.27,50.57],[-10.91,50.56],[-11.58,50.555],[-12.34,50.485],[-9.5,50.72],[-9.16,50.71],[-10.11,50.62],[-9.43,50.61],[-9.53,50.5],[-9.33,50.47],[-9.01,50.5],
[-11.89,50.37],[-11.13,50.42],[-10.75,50.435],[-11.5,50.35],[-11.25,50.335],[-10.16,50.375],[-9.83,50.335],[-9.78,50.335],[-9.25,50.25],[-12.3,50.27],[-12.03,50.27],[-11.39,50.255],[-10.75,50.285],[-11,50.235],[-10.92,50.14],[-10.25,50.17],[-10.32,50.07],[-12.03,50.03],[-12.3,51],
[-12.94,52.74],[-12.33,52.755],[-12.25,52.8],[-12.9,52.415],[-12.84,52.22],[-12.33,52.17],[-12.1,52.2],[-11.67,52.43],[-11.47,52.45],[-11.67,52.3],[-11,52.5],[-10.97,52.35],[-11.07,52.25],[-11.07,52.21],[-11.02,52.17],[-10.18,52.49],[-10.04,52.63],[-10.28,52.31],
[-12.67,55],[-12.95,54.82],[-12.835,54.835],[-10.55,54.9],[-11,54.67],[-11.12,54.53],[-11.58,54.46],[-12.42,54.45],[-12.42,54.45],[-10.46,54.44],[-10.39,54.46],[-10.23,54.48],[-10,54.5],[-10.18,54.27],[-12.67,54.17],[-10.39,54.1],[-10.1,53.2],
[-12.95,56.45],[-11.335,56.5],[-12.7,56.285],[-12.5,56.25],[-12.335,56.2],[-12.235,56.17],[-12,56.2],[-10.215,56.085],[-12.5,56.05],[-12,56],[-11.67,56],[-11.5,56],[-10.415,56],[-10.33,56],[-11,55.93],[-10.1,55.95],[-10.1,55.95],[-12.25,55.885],[-12.17,55.75],[-12.17,55.67],[-11.87,55.5],[-11.335,55.47],[-12.76,55.325],[-11.56,55.315],[-11.56,55.315],[-11.27,55.27],[-12.17,55.2],[-12,55.17],[-11.585,55.17],[-10.07,55.75],[-10.5,55.72],[-10.28,55.22],
[-9.135,56.22],[-9.485,56],[-9.19,55.765],[-9.7,55.565],[-9.425,55.4],[-9.335,55.08],[-8.94,55.23],
[-8.415,55.92],[-8.24,55.92],[-7.99,55.89],[-8.1,55.815],[-7.905,55.8],[-7.48,55.805],[-7.505,55.9],[-7.725,55.665],[-7.58,55.62],[-8.15,55.61],[-8.245,55.585],[-8.04,55.5],[-8.04,55.5],[-8.65,55.435],[-8.335,55.33],[-8.935,55.23],[-8.42,55.16],[-7.77,55.365],[-7.59,55.29],[-7.41,55.445],[-7.36,55.555],[-7.265,55.6],[-7.23,55.615],[-7.18,55.365],[-7.06,55.32],[-6.9,55.31],[-7.06,55.15],[-9.01,55.665],[-9.19,55.77],
[-5.85,53.8],[-5.855,53.62],[-5.94,53.55],[-5.73,53.54],[-5.73,53.54],[-5.63,53.6],[-5.565,53.595],[-5.5,53.6],[-5.345,53.6],[-5.495,53.52],[-5.42,53.47],[-5.795,53.43],[-5.715,53.4],[-5.66,53.37],[-5.61,53.37],[-5.95,53.345],[-5.795,53.32],[-5.39,53.315],[-5.34,53.2],[-5.37,53.09],[-6.05,53.28],
[-5.7,52.975],[-5.84,52.945],[-5.805,52.88],[-5.805,52.88],[-5.59,52.85],[-5.89,52.745],[-5.96,52.675],[-5.99,52.565],[-5.93,52.52],[-5.745,52.525],[-5.665,52.51],[-5.61,52.545],[-5.61,52.545],[-5.465,52.515],[-5.415,52.52],[-6.3,52.41],[-5.6,52.4],[-5.65,52.28],[-5.81,52.22],[-6.4,52.115],[-6.05,52.16],[-6.05,52.16],[-6.06,52.115],[-6.06,52.115],[-6.18,52.15],[-5.715,52.11],[-5.92,52.065],[-5.92,52.065],[-6.45,52.005],[-6.75,51.95],[-6.24,51.94],
[-7.72,51.915],[-7.855,51.81],[-7.785,51.795],[-7.59,51.755],[-7.675,51.715],[-7.675,51.715],[-7.46,51.745],[-7.13,52],[-7.01,52],[-6.885,52],[-7.015,51.935],[-7.015,51.935],[-7.015,51.935],[-7.01,51.91],[-6.75,51.955],[-7.31,51.965],[-7.215,51.62],[-7.15,51.61],[-7.085,51.69],[-7.085,51.69],[-6.965,51.665],[-6.965,51.665],[-7.615,51.48],[-7.42,51.5],[-7.91,51.42],[-6.555,51.83],[-6.465,51.815],[-6.55,51.73],[-6.45,51.6],[-6.39,51.555],[-6.5,51.515],[-6.5,51.515],[-6.455,52.005],[-6.4,52.115],[-6.61,52.125],[-6.26,51.925],[-6.23,51.885],
[-8.945,51.53],[-8.93,51.51],[-8.93,51.51],[-8.945,51.45],[-8.79,51.47],[-8.79,51.47],[-8.7,51.465],[-8.58,51.475],[-8.46,51.355],[-8.33,51.49],[-8.59,51.63],[-8.26,51.58],[-8.17,51.6],[-8.3,51.76],[-8.25,51.71],[-8.25,51.71],[-8.15,51.67],[-8.25,51.78],[-7.86,51.81],[-7.91,51.42],[-8,51.15],[-8,51.15],[-8.04,51.065],[-7.92,51.065],[-8.3,50.915],[-8.1,50.93],[-7.77,50.94],[-8.805,50.88],[-8.805,50.88],[-8.89,50.69],[-8.84,50.35],[-8.5,50.25],[-8.59,50.17],[-8.72,50.08],[-7.37,50.71],[-6.9,51.25]
];

const secondWar = [
[-11.3,51.935],[-10.48,52.15],[-10.48,52.15],[-10.03,51.5],[-11.05,51.12],[-10.5,51.33],[-12.3,51],[-12.95,50.965],[-9.36,51.285],[-9.105,51.485],[-9.4,51.085],[-10.8,50.78],[-10.72,50.68],[-10.25,50.75],[-10.27,50.72],[-11.03,50.62],[-10,50.635],[-9.4,50.6],[-12,50.57],[-12,50.335],[-10.47,50.32],[-10.4,50.335],[-9.18,50.41],[-12.8,50.22],[-12.85,50.15],[-11,50.17],[-11,50.17],[-10.38,50.1],[-9.89,50.13],[-10.08,50.05],[-9.17,50.1],[-12.95,50],[-11.5,50],[-11.5,50.5],
[-11.68,52.735],[-12,52.585],[-12.53,52.28],[-12.5,52.25],[-10.12,52.715],
[-13,55],[-12.5,54.97],[-10.67,54.83],[-10.36,54.885],[-11.03,54.73],[-12.13,54.57],[-12,54.17],[-9.98,53.89],[-11.17,53.83],[-10.3,53.6],[-11.92,53.05],[-11.6,52.97],
[-12,56.465],[-12,56.465],[-11.72,56.33],[-10,56.33],[-12.35,56.285],[-12.5,56.15],[-12.235,56.15],[-12.2,56.1],[-11.215,56],[-11,56.065],[-10.665,56.165],[-9.905,56.065],[-10.13,55.95],[-12.62,55.885],[-12.4,55.915],[-12.4,55.915],[-10.5,55.835],[-11.75,55.77],[-11.62,55.8],[-11.62,55.7],[-12.335,55.62],[-10.25,55.67],[-9.97,55.7],[-11,55.5],[-11,55.5],[-11,55.5],[-11,55.5],[-10.25,55.42],[-11.555,55.315],[-12.235,55.27],[-12.25,55.07],[-11.75,55.05],[-11.35,55.07],[-11,55.085],[-10.63,55.22],[-10.48,55.235],[-10.33,55.2],[-10.3,55.2],[-10.3,55.2],[-10.665,55.135],
[-9.55,56.16],[-9.47,56.13],[-9.42,56.17],[-9.25,55.95],[-9.47,55.915],[-9.75,55.8],[-9.505,55.765],[-9.17,55.565],[-9.3,55.38],[-9.3,55.245],[-9.16,55.17],[-9.23,55.13],
[-11.1,56.065],[-10.62,56.23],[-10.62,56.23],[-10,56.18],[-10.12,56.13],[-10.09,56.1],[-9.8,56.2],[-9.94,55.78],[-9.585,56.065],[-8.59,55.81],[-8.06,55.64],[-7.91,55.58],[-7.91,55.58],[-7.7,55.585],[-7.63,55.58],[-7.935,55.45],[-7.585,55.33],[-7.51,55.52],
[-8.32,55.95],[-8.11,55.93],[-8.07,55.92],[-8.17,55.945],[-7.385,55.9],[-7.09,55.75],[-8.645,55.84],[-7.81,55.81],[-8.075,55.8],[-8.17,55.72],[-8.47,55.635],[-8.67,55.66],[-8.87,55.66],[-8.92,55.615],[-8.96,55.53],[-8.21,55.565],[-7.71,55.54],[-7.49,55.54],[-8.01,55.5],[-8.265,55.47],[-8.2,55.45],[-8.25,55.35],[-8.15,55.195],[-7.84,55.24],[-7.615,55.255],[-7.25,55.425],[-7.34,55.46],[-6.89,55.415],[-6.94,55.21],[-8.915,55.28],
[-9.33,54.585],
[-5.6,53.525],[-5.345,53.655],[-5.86,52.685],[-5.82,52.595],[-5.725,52.4],[-6.185,52.15],[-6.2,52.09],[-6.175,51.995],[-6.56,51.97],[-5.975,51.935],
[-7.07,51.39],[-7.21,51.755],
[-8.59,51.35],[-8.545,51.41],[-8.555,51.21],[-8.09,51.76],[-8.09,51.26],[-8.67,51.07],[-8.85,50.66],[-8.74,50.61],[-8.48,50.67],[-7.94,50.82],[-8.455,50.51],[-8.805,50.28]
];

// wrecks of Operation Deadlight, circled in black
const deadlight = [
[-11.1,56.065],[-10.62,56.23],[-10,56.18],[-10.09,56.2],[-10.12,56.13],[-10.09,56.1],[-9.8,56.2],[-10,56.01],[-10,55.99],[-10,55.97],[-10.09,55.83],[-10.09,55.83],[-9.94,55.78],[-9.585,56.065],[-9.405,56.05],[-9.585,55.965],[-9.45,55.78],[-9,56.1],[-8.97,55.86],[-9.02,55.7],
[-8.67,55.735],[-8.67,55.715],[-8.59,55.81],[-8.52,55.82],[-8.5,55.765],[-8.39,55.82],[-8.325,55.84],[-8.29,55.75],[-8.325,55.72],[-8.355,55.71],[-8.41,55.66],[-8.245,55.67],[-8.45,55.55],[-8.42,55.5],[-7.89,55.73],[-8.06,55.64],[-7.93,55.63],[-7.905,55.64],[-7.91,55.58],[-7.91,55.58],[-7.82,55.61],[-7.77,55.6],[-7.77,55.58],[-7.7,55.585],[-7.63,55.58],[-7.58,55.57],[-7.51,55.52],[-7.935,55.45],[-7.585,55.33]
];

const xMajorTicks = [-13, -11, -9, -7, -5];
const xMinorTicks = [-12, -10, -8, -6];
const yMajorTicks = [50, 52, 54, 56];
const yMinorTicks = [51, 53, 55];

const titleText = 'The island drawn by its own shipwrecks';
const subtitleText = '2,828 wrecks with a recorded position in Irish coastal waters';
const legendNames = ['peacetime', 'First World War', 'Second World War'];
const legendColors = ['#1a6e96', '#b93a32', '#7a59a9'];
const alphaColors = ['rgba(26,110,150,0.55)', 'rgba(185,58,50,0.55)', 'rgba(122,89,169,0.55)'];

const arrowFrom = [-8.3, 53.7];
const arrowBend = [-8.04, 54.62];
const arrowTo = [-9.21, 55.356];
const noteLon = -8.2;
const noteLines = [
  { text: 'Operation Deadlight', lat: 53.42, font: 'bold 46px "Liberation Sans"', color: '#111111' },
  { text: '80 surrendered U-boats', lat: 53.205, font: '40px "Liberation Sans"', color: '#3a3a3a' },
  { text: 'scuttled, 1945–46', lat: 52.955, font: '40px "Liberation Sans"', color: '#3a3a3a' }
];

const toPoints = rows => rows.map(r => ({ x: r[0], y: r[1] }));

function wreckSet(rows, idx) {
  return {
    label: legendNames[idx], data: toPoints(rows),
    backgroundColor: alphaColors[idx], borderColor: alphaColors[idx],
    pointRadius: 5, borderWidth: 3
  };
}

// headings, legend row and the Deadlight note, drawn over the points
const notePlugin = {
  id: 'note',
  afterDatasetsDraw(c) {
    const ctx = c.ctx, sx = c.scales.x, sy = c.scales.y;
    const px = p => [sx.getPixelForValue(p[0]), sy.getPixelForValue(p[1])];
    const [x0, y0] = px(arrowFrom), [x1, y1] = px(arrowBend), [x2, y2] = px(arrowTo);

    ctx.save();
    ctx.strokeStyle = '#444444';
    ctx.lineWidth = 3.4;
    ctx.beginPath();
    ctx.moveTo(x0, y0);
    ctx.quadraticCurveTo(x1, y1, x2, y2);
    ctx.stroke();
    // open arrow head
    const ang = Math.atan2(y1 - y2, x1 - x2);
    ctx.beginPath();
    ctx.moveTo(x2 + 21 * Math.cos(ang - 0.62), y2 + 21 * Math.sin(ang - 0.62));
    ctx.lineTo(x2, y2);
    ctx.lineTo(x2 + 21 * Math.cos(ang + 0.62), y2 + 21 * Math.sin(ang + 0.62));
    ctx.stroke();

    ctx.textAlign = 'center';
    ctx.textBaseline = 'alphabetic';
    noteLines.forEach(l => {
      ctx.font = l.font;
      ctx.fillStyle = l.color;
      ctx.fillText(l.text, sx.getPixelForValue(noteLon), sy.getPixelForValue(l.lat));
    });

    ctx.textAlign = 'left';
    ctx.fillStyle = '#000000';
    ctx.font = 'bold 65px "Liberation Sans"';
    ctx.fillText(titleText, 798, 74);
    ctx.font = '54px "Liberation Sans"';
    ctx.fillText(subtitleText, 798, 152.7);

    ctx.font = '43.5px "Liberation Sans"';
    [808, 1135, 1561.5].forEach((x, i) => {
      ctx.fillStyle = legendColors[i];
      ctx.beginPath();
      ctx.arc(x, 254, 16.5, 0, Math.PI * 2);
      ctx.fill();
    });
    ctx.fillStyle = '#000000';
    [872.5, 1198, 1625.6].forEach((x, i) => ctx.fillText(legendNames[i], x, 268.7));
    ctx.restore();
  }
};

const setTicks = (major, minor) => scale => {
  scale.ticks = major.concat(minor).sort((a, b) => a - b).map(v => ({ value: v }));
};
const gridStyle = major => ({
  color: '#ededed', drawTicks: false,
  lineWidth: c => major.includes(c.tick.value) ? 3.6 : 2
});

new Chart(document.getElementById('chart'), {
  type: 'scatter',
  plugins: [notePlugin],
  data: {
    datasets: [
      { label: 'Operation Deadlight', data: toPoints(deadlight), backgroundColor: 'transparent', borderColor: '#111111', pointRadius: 8, borderWidth: 3.6 },
      wreckSet(peacetime.concat(peacetimeMasses), 0),
      wreckSet(secondWar, 2),
      wreckSet(firstWar, 1)
    ]
  },
  options: {
    responsive: false, animation: false, devicePixelRatio: 1,
    layout: { padding: { top: 370, right: 738 } },
    plugins: {
      legend: { display: false },
      tooltip: { enabled: false }
    },
    scales: {
      x: {
        type: 'linear', min: -13.384, max: -4.92, bounds: 'data',
        afterBuildTicks: setTicks(xMajorTicks, xMinorTicks),
        afterFit: s => { s.height = 83; },
        grid: gridStyle(xMajorTicks), border: { display: false },
        ticks: {
          autoSkip: false, maxRotation: 0, padding: 26, color: '#333333',
          font: { family: '"Liberation Sans"', size: 28 },
          callback: v => xMajorTicks.includes(v) ? String(v) : ''
        }
      },
      y: {
        type: 'linear', min: 49.678, max: 56.848, bounds: 'data',
        afterBuildTicks: setTicks(yMajorTicks, yMinorTicks),
        afterFit: s => { s.width = 799; },
        grid: gridStyle(yMajorTicks), border: { display: false },
        ticks: {
          autoSkip: false, padding: 11, color: '#333333',
          font: { family: '"Liberation Sans"', size: 28 },
          callback: v => yMajorTicks.includes(v) ? String(v) : ''
        }
      }
    }
  }
});
</script>
</body>
</html>
